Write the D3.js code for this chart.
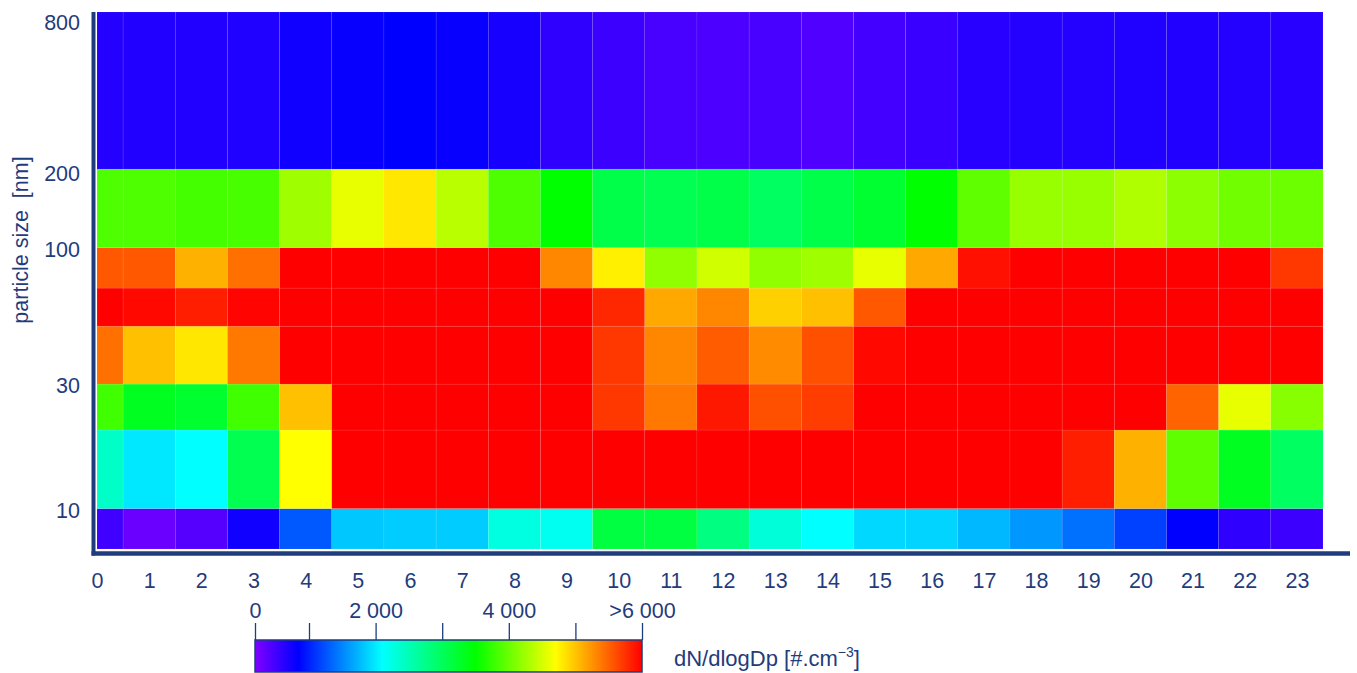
<!DOCTYPE html>
<html>
<head>
<meta charset="utf-8">
<script src="https://cdn.jsdelivr.net/npm/d3@7"></script>
<style>
  body { margin:0; background:#fff; }
  svg { display:block; font-family:"Liberation Sans", Arial, sans-serif; }
  .axis text { fill:#1f3c7c; font-size:21.5px; font-family:"Liberation Sans", Arial, sans-serif; }
</style>
</head>
<body>
<svg width="1357" height="673"></svg>
<script>
// Hours of the day (columns)
var hours=[0,1,2,3,4,5,6,7,8,9,10,11,12,13,14,15,16,17,18,19,20,21,22,23];

// Particle size bin edges in nm (rows)
var sizeEdges=[7,10,20,30,50,70,100,200,800];
var sizeTicks=[10,30,100,200,800];

// dN/dlogDp per size bin, one value per hour
var n7_10   =[400,137,270,700,1250,1820,1840,1840,2270,2180,3150,3150,2800,2310,2100,1900,1880,1740,1575,1370,1125,800,500,425];
var n10_20  =[2400,1985,2100,3060,4700,6500,6500,6500,6500,6500,6500,6500,6500,6500,6500,6500,6500,6500,6500,5840,5100,3950,3320,2970];
var n20_30  =[3800,3320,3240,3800,5020,6500,6500,6500,6500,6500,5715,5390,5880,5590,5690,6500,6500,6500,6500,6500,6500,5490,4590,4140];
var n30_50  =[5430,5020,4820,5390,6500,6500,6500,6500,6500,6500,5715,5310,5530,5285,5590,5960,6500,6500,6500,6500,6500,6500,6500,6500];
var n50_70  =[6500,5960,5840,5980,6500,6500,6500,6500,6500,6500,5800,5145,5310,4940,5020,5550,6500,6500,6500,6500,6500,6500,6500,6500];
var n70_100 =[5550,5550,5100,5430,6500,6500,6500,6500,6500,5310,4775,4180,4480,4180,4250,4590,5145,5920,6500,6500,6500,6500,6500,5715];
var n100_200=[3860,3860,3820,3840,4250,4590,4820,4370,3860,3500,3105,3060,3105,2975,3100,3235,3500,3950,4215,4215,4330,4160,4030,4010];
var n200_800=[575,590,590,600,700,750,800,750,650,500,425,350,325,350,300,375,440,550,575,575,600,590,575,550];

var rows=[n7_10,n10_20,n20_30,n30_50,n50_70,n70_100,n100_200,n200_800];

// Colour scale stops (rainbow, capped at 6000)
var colorStops=[0,800,2100,3500,4700,6000];
var colorRange=["#8000ff","#0000ff","#00ffff","#00ff00","#ffff00","#ff0000"];
var legendTicks=[0,1000,2000,3000,4000,5000,6000];
var legendLabels={0:"0",2000:"2 000",4000:"4 000",6000:">6 000"};

// Build the cell table from the arrays above
var cells=[];
rows.forEach(function(vals,i){
  vals.forEach(function(v,j){
    cells.push({hour:hours[j], lo:sizeEdges[i], hi:sizeEdges[i+1], value:v});
  });
});

var svg=d3.select("svg");
var navy="#1f3c7c";

// Scales
var xScale=d3.scaleLinear()
             .domain([0,23.5])
             .range([97,1323]);

var yScale=d3.scaleLog()
             .domain([7,800])
             .range([549,12]);

var colorScale=d3.scaleLinear()
                 .domain(colorStops)
                 .range(colorRange)
                 .clamp(true);

// Used for drawing the heat cells
svg.append("g")
  .selectAll("rect")
  .data(cells)
  .enter()
  .append("rect")
    .attr("x", d=> xScale(Math.max(0,d.hour-0.5)))
    .attr("width", d=> xScale(d.hour+0.5)-xScale(Math.max(0,d.hour-0.5)))
    .attr("y", d=> yScale(d.hi))
    .attr("height", d=> yScale(d.lo)-yScale(d.hi))
    .attr("fill", d=> colorScale(d.value))
    .attr("stroke","rgba(255,255,255,0.12)")
    .attr("stroke-width",0.6);

// Axis frame lines (left and bottom)
svg.append("line")
    .attr("x1",93.5).attr("x2",93.5)
    .attr("y1",12).attr("y2",555.5)
    .attr("stroke",navy).attr("stroke-width",4);
svg.append("line")
    .attr("x1",91.5).attr("x2",1350)
    .attr("y1",553.5).attr("y2",553.5)
    .attr("stroke",navy).attr("stroke-width",4.5);

// X axis labels
var xAxis=d3.axisBottom(xScale)
            .tickValues(hours)
            .tickSize(0)
            .tickPadding(18);

svg.append("g")
    .attr("class","axis")
    .attr("transform","translate(0,555)")
    .call(xAxis)
    .call(g=> g.select(".domain").remove());

// Y axis labels
var yAxis=d3.axisLeft(yScale)
            .tickValues(sizeTicks)
            .tickFormat(d3.format("d"))
            .tickSize(0)
            .tickPadding(13);

svg.append("g")
    .attr("class","axis")
    .attr("transform","translate(93,0)")
    .call(yAxis)
    .call(g=> g.select(".domain").remove())
    .call(g=> g.selectAll(".tick text")
               .attr("dy", d=> d==800 ? "0.8em" : (d==200 ? "0.55em" : "0.4em")));

// Y axis title
svg.append("text")
    .attr("transform","rotate(-90)")
    .attr("x",-240)
    .attr("y",28)
    .style("text-anchor","middle")
    .style("font-size","21.5px")
    .attr("fill",navy)
    .attr("xml:space","preserve")
    .text("particle size  [nm]");

// Colour bar legend
var legendScale=d3.scaleLinear()
                  .domain([0,1000,6000])
                  .range([255,309,642]);

var grad=svg.append("defs")
  .append("linearGradient")
    .attr("id","rainbow")
    .attr("gradientUnits","userSpaceOnUse")
    .attr("x1",legendScale(0)).attr("x2",legendScale(6000))
    .attr("y1",0).attr("y2",0);

grad.selectAll("stop")
  .data(colorStops)
  .enter()
  .append("stop")
    .attr("offset", d=> (legendScale(d)-legendScale(0))/(legendScale(6000)-legendScale(0)))
    .attr("stop-color", d=> colorScale(d));

svg.append("rect")
    .attr("x",legendScale(0))
    .attr("y",640)
    .attr("width",legendScale(6000)-legendScale(0))
    .attr("height",32)
    .attr("fill","url(#rainbow)")
    .attr("stroke",navy)
    .attr("stroke-width",1.5);

var legendAxis=d3.axisTop(legendScale)
                 .tickValues(legendTicks)
                 .tickSize(17)
                 .tickPadding(5)
                 .tickFormat(d=> legendLabels[d] || "");

svg.append("g")
    .attr("class","axis")
    .attr("transform","translate(0,640)")
    .call(legendAxis)
    .call(g=> g.select(".domain").remove())
    .call(g=> g.selectAll(".tick line").attr("stroke",navy).attr("stroke-width",1.3));

// Legend title
var lt=svg.append("text")
    .attr("x",674)
    .attr("y",666)
    .style("font-size","22px")
    .attr("fill",navy)
    .text("dN/dlogDp [#.cm");
lt.append("tspan")
    .attr("dy",-9)
    .style("font-size","14px")
    .text("\u22123");
lt.append("tspan")
    .attr("dy",9)
    .text("]");
</script>
</body>
</html>
